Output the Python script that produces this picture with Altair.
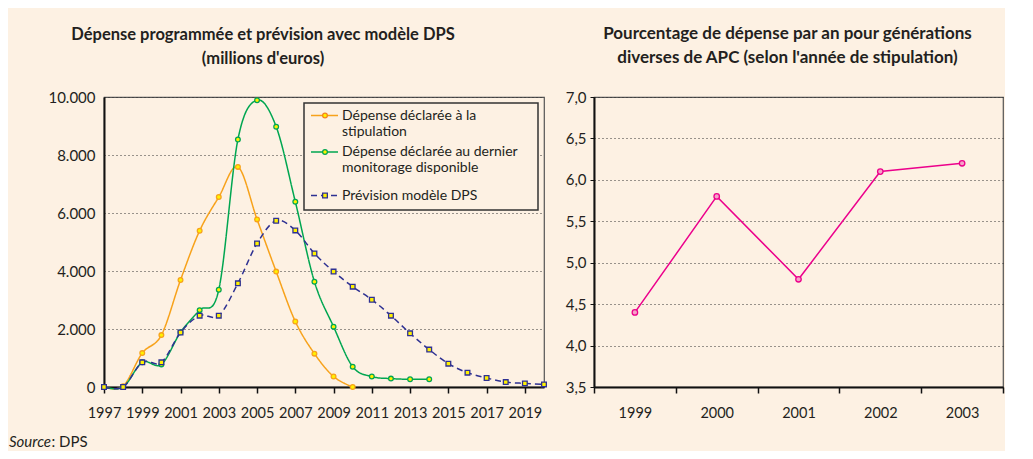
import altair as alt
import pandas as pd

FONT = "Lato"
TXT = "#231f20"
BG = "#fdf1e3"

# ---------------- data: left chart ----------------
series = [
    "Dépense déclarée à la stipulation",
    "Dépense déclarée au dernier monitorage disponible",
    "Prévision modèle DPS",
]
years_orange = list(range(1997, 2011))
orange_vals = [0, 30, 1170, 1790, 3690, 5390, 6550, 7590, 5780, 3980, 2260, 1150, 360, 0]
years_green = list(range(1997, 2015))
green_vals = [0, 0, 850, 780, 1885, 2650, 3355, 8535, 9890, 8975, 6390, 3630, 2080, 700, 360, 290, 265, 265]
years_blue = list(range(1997, 2021))
blue_vals = [0, 0, 850, 850, 1880, 2460, 2460, 3575, 4950, 5735, 5400, 4605, 3980, 3460,
             3010, 2460, 1850, 1290, 805, 495, 310, 170, 125, 90]
x_tick_years = list(range(1997, 2020, 2))
y_ticks_left = [0, 2000, 4000, 6000, 8000, 10000]

legend_lines = [
    ["Dépense déclarée à la", "stipulation"],
    ["Dépense déclarée au dernier", "monitorage disponible"],
    ["Prévision modèle DPS"],
]

# ---------------- data: right chart ----------------
years_right = ["1999", "2000", "2001", "2002", "2003"]
pct_vals = [4.4, 5.8, 4.8, 6.1, 6.2]
y_ticks_right = [3.5, 4.0, 4.5, 5.0, 5.5, 6.0, 6.5, 7.0]

# colours
ORANGE = "#f7a21b"
ORANGE_MK = "#f58220"
GREEN = "#00a651"
BLUE = "#2e3192"
YELLOW = "#fff200"
PINK = "#ec008c"
PINK_FILL = "#f5a3c7"

df_left = pd.concat([
    pd.DataFrame({"year": years_orange, "value": orange_vals, "series": series[0]}),
    pd.DataFrame({"year": years_green, "value": green_vals, "series": series[1]}),
    pd.DataFrame({"year": years_blue, "value": blue_vals, "series": series[2]}),
], ignore_index=True)

df_right = pd.DataFrame({"year": years_right, "pct": pct_vals})

W1, H = 440, 290
W2 = 409
TICK_FS = 15

x_left = alt.X(
    "year:Q",
    scale=alt.Scale(domain=[1997, 2020], nice=False, zero=False),
    axis=alt.Axis(values=x_tick_years, format="d", title=None, grid=False,
                  domainColor="#111", domainWidth=2, tickColor="#111", tickWidth=1.5,
                  tickSize=6, labelPadding=13, labelFontSize=14.5, labelFont=FONT,
                  labelColor=TXT, labelFlush=False, labelOverlap=False, labelBound=False),
)
y_left = alt.Y(
    "value:Q",
    scale=alt.Scale(domain=[0, 10000], nice=False),
    axis=alt.Axis(values=y_ticks_left, title=None, ticks=False, labelPadding=9,
                  labelExpr="replace(format(datum.value, ',d'), ',', '.')",
                  domainColor="#111", domainWidth=2, grid=True, gridColor="#333",
                  gridDash=[1, 3], gridWidth=1, labelFontSize=TICK_FS, labelFont=FONT,
                  labelColor=TXT),
)

stroke_scale = alt.Scale(domain=series, range=[ORANGE, GREEN, BLUE])
mk_scale = alt.Scale(domain=series, range=[ORANGE_MK, GREEN, BLUE])

base = alt.Chart(df_left)
lines = base.mark_line(interpolate="cardinal", strokeWidth=1.5).encode(
    x=x_left,
    y=y_left,
    stroke=alt.Stroke("series:N", scale=stroke_scale, legend=None),
    strokeDash=alt.StrokeDash("series:N", scale=alt.Scale(domain=series, range=[[1, 0], [1, 0], [6, 4]]), legend=None),
    order="year:Q",
)
points = base.mark_point(size=22, strokeWidth=1.3, opacity=1, filled=False).encode(
    x=x_left,
    y=y_left,
    stroke=alt.Stroke("series:N", scale=mk_scale, legend=None),
    fill=alt.value(YELLOW),
    shape=alt.Shape("series:N", scale=alt.Scale(domain=series, range=["circle", "circle", "square"]), legend=None),
)

one = pd.DataFrame({"k": [0]})
leg = alt.Chart(one)
LX0, LX1 = 200, 434
legend_box = leg.mark_rect(fill=BG, stroke="#333", strokeWidth=1.5).encode(
    x=alt.value(LX0), x2=alt.value(LX1), y=alt.value(6), y2=alt.value(113))

leg_layers = [legend_box]
leg_rows = [(18.5, ORANGE, ORANGE_MK, "circle", [1, 0]),
            (55, GREEN, GREEN, "circle", [1, 0]),
            (98.5, BLUE, BLUE, "square", [6, 4])]
for (yy, lc, mc, shp, dash), lbl in zip(leg_rows, legend_lines):
    leg_layers.append(leg.mark_rule(stroke=lc, strokeWidth=1.5, strokeDash=dash).encode(
        x=alt.value(207), x2=alt.value(234), y=alt.value(yy)))
    leg_layers.append(leg.mark_point(shape=shp, size=22, stroke=mc, fill=YELLOW, strokeWidth=1.3, opacity=1).encode(
        x=alt.value(221), y=alt.value(yy)))
    for i, line in enumerate(lbl):
        leg_layers.append(leg.mark_text(align="left", baseline="middle", font=FONT, fontSize=14, color=TXT).encode(
            x=alt.value(238), y=alt.value(yy + i * 16), text=alt.value(line)))

source_it = leg.mark_text(align="left", baseline="middle", font=FONT, fontSize=15, fontStyle="italic", color=TXT).encode(
    x=alt.value(-95), y=alt.value(344.5), text=alt.value("Source"))
source_rest = leg.mark_text(align="left", baseline="middle", font=FONT, fontSize=15, color=TXT).encode(
    x=alt.value(-52.5), y=alt.value(344.5), text=alt.value(": DPS"))

TITLE_FS = 16.5
left = alt.layer(lines, points, *leg_layers, source_it, source_rest).properties(
    width=W1, height=H,
    title=alt.TitleParams(
        text=["Dépense programmée et prévision avec modèle DPS", "(millions d'euros)"],
        font=FONT, fontSize=TITLE_FS, fontWeight="bold", color=TXT, lineHeight=24,
        anchor="middle", frame="group", dx=-61, offset=23),
)

# ---------------- right chart ----------------
x_right = alt.X(
    "year:O",
    scale=alt.Scale(type="band", domain=years_right, paddingInner=0, paddingOuter=0),
    bandPosition=0.5,
    axis=alt.Axis(title=None, labelAngle=0, tickBand="extent", domainColor="#111", domainWidth=2,
                  tickColor="#111", tickWidth=1.5, tickSize=6, labelPadding=13, labelFontSize=14.5,
                  labelFont=FONT, labelColor=TXT, grid=False),
)
y_right = alt.Y(
    "pct:Q",
    scale=alt.Scale(domain=[3.5, 7.0], nice=False, zero=False),
    axis=alt.Axis(values=y_ticks_right, title=None, tickSize=4, tickColor="#111", labelPadding=4,
                  labelExpr="replace(format(datum.value, '.1f'), '.', ',')",
                  domainColor="#111", domainWidth=2, grid=True, gridColor="#333",
                  gridDash=[1, 3], gridWidth=1, labelFontSize=TICK_FS, labelFont=FONT,
                  labelColor=TXT, minExtent=30, maxExtent=30),
)
rbase = alt.Chart(df_right)
rline = rbase.mark_line(stroke=PINK, strokeWidth=1.5).encode(x=x_right, y=y_right)
rpts = rbase.mark_point(shape="circle", size=30, stroke=PINK, fill=PINK_FILL, strokeWidth=1.3, opacity=1).encode(
    x=x_right, y=y_right)

right = alt.layer(rline, rpts).properties(
    width=W2, height=H,
    title=alt.TitleParams(
        text=["Pourcentage de dépense par an pour générations", "diverses de APC (selon l'année de stipulation)"],
        font=FONT, fontSize=17, fontWeight="bold", color=TXT, lineHeight=24,
        anchor="middle", frame="group", dx=-11, offset=23),
)

chart = alt.hconcat(left, right, spacing=13).properties(
    background=BG,
    padding={"left": 0, "top": 16, "right": 0, "bottom": 0},
).configure_view(stroke="#555", strokeWidth=1.2).configure_concat(spacing=13)

chart.save("out.html", embed_options={"renderer": "svg", "actions": False})
